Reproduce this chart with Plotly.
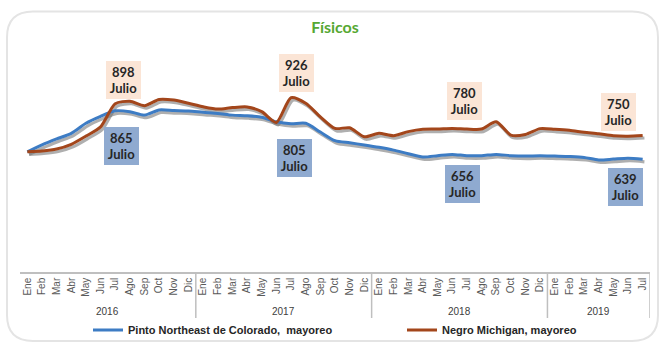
import plotly.graph_objects as go

# ---- datos ----
meses = ["Ene", "Feb", "Mar", "Abr", "May", "Jun", "Jul", "Ago", "Sep", "Oct", "Nov", "Dic"]
anios = ["2016", "2017", "2018", "2019"]
meses_por_anio = [12, 12, 12, 7]
etiquetas_mes = [m for n in meses_por_anio for m in meses[:n]]

pinto = [674, 706, 734, 760, 807, 839, 865, 861, 845, 869, 866, 864,
         858, 853, 845, 842, 835, 814, 805, 807, 766, 726, 716, 706,
         695, 682, 665, 650, 656, 662, 656, 656, 662, 656, 654, 656,
         654, 652, 648, 636, 640, 644, 639]
negro = [674, 678, 687, 709, 747, 790, 898, 910, 889, 918, 915, 900,
         884, 873, 880, 883, 861, 811, 926, 900, 837, 783, 786, 744,
         760, 749, 768, 779, 780, 783, 780, 780, 814, 752, 755, 782,
         779, 774, 765, 758, 749, 747, 750]

nombre_pinto = "Pinto Northeast de Colorado,  mayoreo"
nombre_negro = "Negro Michigan, mayoreo"
indices_julio = [6, 18, 30, 42]

# ---- estilo ----
W, H = 660, 344
ML, MR, MT, MB = 20, 10, 40, 72
PW, PH = W - ML - MR, H - MT - MB
AZUL = "#3D7CC4"
CAFE = "#A3461B"
SOMBRA = "rgba(110,110,110,0.55)"
FONDO_CAFE = "#FBE5D6"
FONDO_AZUL = "#8FAAD0"
GRIS_EJE = "#BFBFBF"
FUENTE_EJE = "Liberation Sans, Arial"

x = list(range(len(etiquetas_mes)))
y_rango = [114, 1195]
unid_px = (y_rango[1] - y_rango[0]) / PH


def px_x(px):
    return (px - ML) / PW


def px_y(py):
    return (H - MB - py) / PH


fig = go.Figure()

# sombras de las líneas
for serie in (pinto, negro):
    fig.add_trace(go.Scatter(
        x=[v + 0.12 for v in x], y=[v - 2.5 * unid_px for v in serie],
        mode="lines", line=dict(color=SOMBRA, width=3.2, shape="spline", smoothing=0.7),
        hoverinfo="skip", showlegend=False))

fig.add_trace(go.Scatter(x=x, y=pinto, name=nombre_pinto, mode="lines", legend="legend",
                         line=dict(color=AZUL, width=3, shape="spline", smoothing=0.7)))
fig.add_trace(go.Scatter(x=x, y=negro, name=nombre_negro, mode="lines", legend="legend2",
                         line=dict(color=CAFE, width=3, shape="spline", smoothing=0.7)))

# etiquetas de julio
desplaz_negro = [(8, 24), (5, 25), (-2, 28), (-24, 24)]
desplaz_pinto = [(6, -35), (3, -34), (-4, -28), (-17, -28)]
for k, i in enumerate(indices_julio):
    for serie, fondo, (dx, dy) in ((negro, FONDO_CAFE, desplaz_negro[k]),
                                   (pinto, FONDO_AZUL, desplaz_pinto[k])):
        fig.add_annotation(
            x=i, y=serie[i], xref="x", yref="y", showarrow=False,
            text=f"<b>{serie[i]}</b><br><b>Julio</b>",
            font=dict(family="Lato, Carlito, sans-serif", size=13, color="#262626"),
            bgcolor=fondo, bordercolor=fondo, borderwidth=1,
            width=31, height=34, align="center", xshift=dx, yshift=dy)

# años y separadores del eje
inicio = 0
shapes = []
for anio, n in zip(anios, meses_por_anio):
    centro = inicio + (n - 1) / 2
    fig.add_annotation(x=centro, y=px_y(311), xref="x", yref="paper", showarrow=False,
                       xanchor="center", yanchor="middle",
                       text=anio, font=dict(family=FUENTE_EJE, size=10, color="#404040"))
    fin = inicio + n - 0.5
    shapes.append(dict(type="line", xref="x", yref="paper", x0=fin, x1=fin,
                       y0=0, y1=px_y(318), line=dict(color=GRIS_EJE, width=1.5)))
    inicio += n

# marco redondeado
x0, x1, y0, y1, r = 7, 658, 11.5, 341, 26
path = (f"M {px_x(x0 + r)},{px_y(y0)} L {px_x(x1 - r)},{px_y(y0)} "
        f"Q {px_x(x1)},{px_y(y0)} {px_x(x1)},{px_y(y0 + r)} "
        f"L {px_x(x1)},{px_y(y1 - r)} Q {px_x(x1)},{px_y(y1)} {px_x(x1 - r)},{px_y(y1)} "
        f"L {px_x(x0 + r)},{px_y(y1)} Q {px_x(x0)},{px_y(y1)} {px_x(x0)},{px_y(y1 - r)} "
        f"L {px_x(x0)},{px_y(y0 + r)} Q {px_x(x0)},{px_y(y0)} {px_x(x0 + r)},{px_y(y0)} Z")
shapes.append(dict(type="path", xref="paper", yref="paper", path=path,
                   line=dict(color="#E4E4E4", width=2), layer="below"))

leyenda = dict(orientation="h", xanchor="left", y=px_y(330), yanchor="middle",
               font=dict(family=FUENTE_EJE, size=11, color="#262626", weight="bold"),
               itemwidth=30, bgcolor="rgba(0,0,0,0)")

fig.update_layout(
    width=W, height=H, margin=dict(l=ML, r=MR, t=MT, b=MB, autoexpand=False),
    paper_bgcolor="white", plot_bgcolor="white",
    title=dict(text="<b>Físicos</b>", x=0.5, xref="paper", xanchor="center",
               y=1 - 27 / H, yanchor="middle",
               font=dict(family="Lato, Carlito, sans-serif", size=16, color="#56A833")),
    shapes=shapes,
    showlegend=True,
    legend=dict(leyenda, x=px_x(88)),
    legend2=dict(leyenda, x=px_x(402)),
    xaxis=dict(range=[-0.5, len(x) - 0.5], tickmode="array", tickvals=x, ticktext=etiquetas_mes,
               tickangle=-90, tickfont=dict(family=FUENTE_EJE, size=10, color="#595959"),
               showline=True, linecolor=GRIS_EJE, linewidth=1.5, ticks="", showgrid=False,
               zeroline=False, fixedrange=True, automargin=False),
    yaxis=dict(range=y_rango, visible=False, showgrid=False, zeroline=False, fixedrange=True,
               automargin=False),
)

fig.write_html("out.html")
